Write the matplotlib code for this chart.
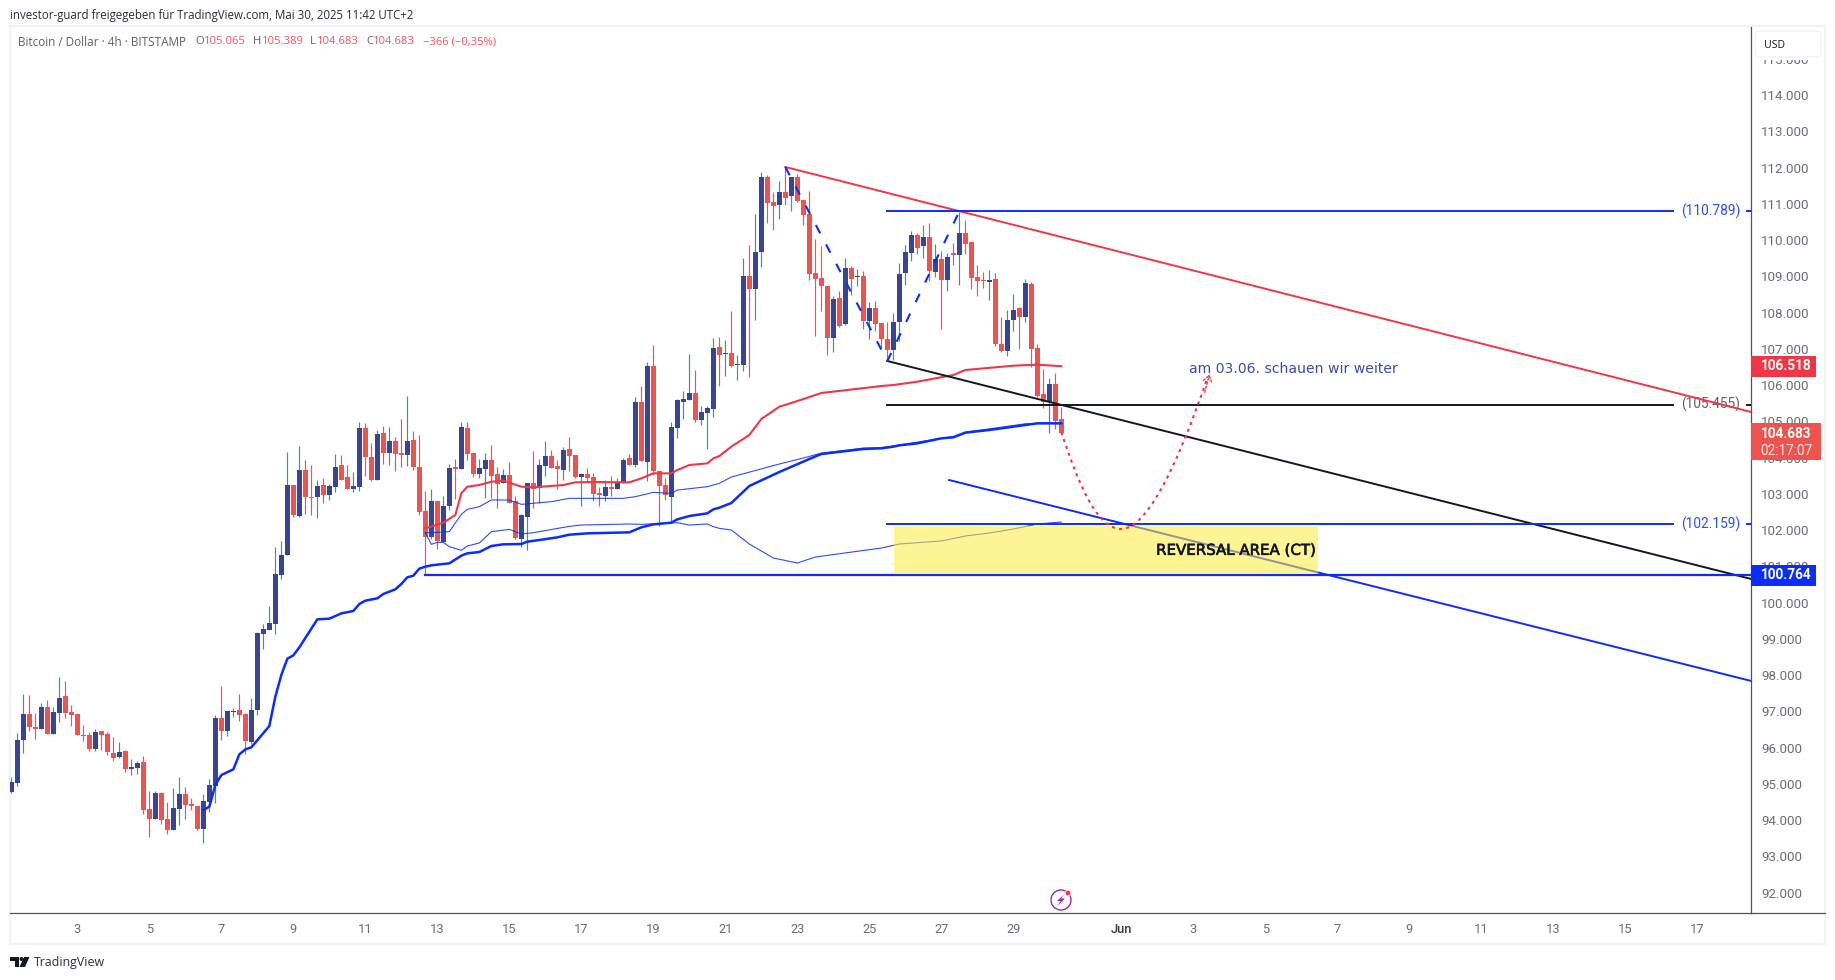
import matplotlib
matplotlib.use("Agg")
import matplotlib.pyplot as plt
import matplotlib.patheffects as pe
from matplotlib.patches import Rectangle, FancyBboxPatch, Circle, Polygon, PathPatch
from matplotlib.path import Path
from matplotlib.transforms import blended_transform_factory

# --- 4h BTC/USD candles -------------------------------------------------
opens = [94772,95021,96207,96924,96565,96510,97117,96372,96952,97421,
 96979,96924,96345,96345,95959,96455,96372,95848,95738,95903,
 95407,95434,95600,94303,94028,94745,94028,93724,94303,94717,
 94441,94386,93752,94497,94938,96814,96455,96979,97034,96924,
 96152,97034,99131,99241,99407,100759,101311,103242,102386,103655,
 102911,102911,103242,102966,103186,103793,103462,103131,103186,104814,
 104014,103379,104676,104124,104455,104124,104069,104483,103738,102524,
 101807,102800,101669,102662,103738,103683,104814,104124,103545,103683,
 103931,103545,103297,103517,102800,101752,102359,103297,103159,103765,
 104041,103765,103655,104234,104069,103462,103545,103462,103021,102938,
 103186,103131,103297,103986,103793,105531,103876,106524,103628,103241,
 102910,104814,105531,105586,105779,105034,105227,105338,107048,106856,
 106883,106552,106552,109007,108649,109669,111738,111049,110966,111324,
 111214,111738,111104,110718,109090,108952,108731,107297,108400,107683,
 109228,108980,109007,107766,108125,107711,107269,106966,107738,109089,
 109641,110138,109834,110083,109117,109476,108896,109641,109586,110193,
 109945,108979,108896,108841,108924,107131,106938,107793,108124,107876,
 108786,107021,105752,105531,106028,105065]
highs = [95177,96400,97476,97448,96952,97227,97310,97117,97945,97834,
 97172,96952,96621,96427,96510,96455,96427,96290,96152,95931,
 95683,95628,95765,94800,94800,94772,94497,94883,95186,94910,
 94607,94386,94717,95131,96896,97696,97007,97090,97476,96952,
 97365,99186,99407,99904,101531,101697,104152,103242,104317,103931,
 103793,103379,103435,103269,104097,104069,103793,103600,104979,104952,
 104400,104759,104869,104842,104566,105062,105697,104731,104621,103076,
 103131,102800,102938,103821,103959,104979,104979,104124,103959,104124,
 104345,103738,103683,103876,102938,102442,103297,104179,103959,104455,
 104207,103931,104290,104565,104069,103572,103710,103572,103186,103379,
 103490,103434,103986,104096,105669,105972,106634,107103,103628,103434,
 104979,105614,105834,106855,106414,105421,105421,107296,107324,107242,
 108042,106828,109504,109862,110718,111876,111793,111324,111628,112014,
 111738,111821,111104,111352,110028,109835,108731,108456,108594,109504,
 109283,109200,109145,108290,108318,107711,107738,107987,109365,109862,
 110248,110193,110413,110469,109889,109696,109641,109917,110772,110551,
 109945,109310,109117,109172,109089,107876,108069,108510,108152,108924,
 108841,107131,106441,106193,106331,105389]
lows = [94754,94947,95848,96455,96234,96510,96372,96372,96703,96814,
 96593,96345,96179,95903,95903,95931,95793,95628,95710,95324,
 95241,95269,94165,93531,94028,93890,93614,93724,93862,94028,
 94276,93724,93365,94221,94469,96207,96317,96841,96731,95821,
 96096,96896,98717,99241,99131,100649,101311,102359,102359,102442,
 102414,102331,102745,102828,103048,103379,103131,103048,103076,103490,
 103352,103379,103821,103793,103628,103738,103766,103655,102414,100759,
 101752,101476,101669,102552,102855,103683,103931,103462,103435,102883,
 102883,102607,103297,102745,101752,101531,101449,102607,102736,103490,
 103710,103131,103379,103628,103434,102662,103324,102800,102662,102800,
 102938,103131,103297,103793,103738,103903,103352,103517,102110,102828,
 102193,104538,105062,105586,104979,104896,104234,105117,105972,106249,
 106506,106138,106387,106221,107794,109256,110469,110276,110580,110966,
 110800,111049,110414,108897,107352,108042,106828,106911,107600,107656,
 108483,108731,107545,107269,107490,107021,106690,106690,107214,108758,
 109420,109614,109503,108869,108979,107545,108593,109310,108758,109614,
 108648,108455,108676,108345,107076,106910,106800,107490,106993,107738,
 106496,105669,105365,104676,104786,104683]
closes = [95048,96207,96924,96565,96510,97117,96372,96979,97365,96952,
 96896,96345,96326,95959,96427,96345,95876,95710,95876,95407,
 95462,95572,94276,94028,94745,94000,93724,94331,94717,94414,
 94386,93752,94524,94965,96814,96455,97007,97007,96896,96179,
 97034,99158,99269,99434,100787,101311,103242,102414,103655,102911,
 102883,103214,102966,103214,103738,103379,103131,103214,104814,104014,
 103379,104648,104124,104455,104097,104069,104455,103738,102497,101807,
 102800,101697,102662,103711,103683,104842,104097,103545,103711,103931,
 103490,103269,103517,102745,101780,102414,103297,103131,103793,104041,
 103710,103683,104207,104041,103462,103545,103434,102993,102965,103186,
 103131,103324,103931,103793,105531,103903,106524,103628,103214,102965,
 104841,105586,105614,105779,105034,105255,105365,107020,106827,106883,
 106525,106580,109007,108649,109669,111738,111021,110938,111324,111159,
 111738,111076,110690,109062,108925,108731,107297,108373,107628,109228,
 108925,109007,107766,108125,107683,107269,106966,107738,109062,109669,
 110138,109779,110083,109145,109476,108896,109531,109595,110193,109890,
 108952,108869,108869,108896,107131,106938,107793,108069,107876,108814,
 106993,105696,105531,106028,105007,104683]

# --- anchored VWAP lines (bar index, price) -----------------------------
vwap_long_bars = [32,33,34,35,37,38,39,40,43,44,45,46,47,48,51,53,55,57,58,59,61,62,64,65,66,67,68,69,70,73,75,76,78,80,82,85,86,88,91,93,96,103,105,107,110,111,113,116,117,118,120,123,128,133,135,142,145,147,148,151,155,157,159,163,169,171,175]
vwap_long = [94276,94368,94965,95241,95398,95811,95949,96004,96593,97402,98000,98450,98542,98763,99536,99554,99701,99766,99959,100051,100115,100235,100364,100511,100695,100741,100934,100989,101026,101081,101292,101357,101393,101559,101605,101614,101678,101724,101798,101871,101908,101936,102074,102156,102202,102294,102386,102460,102570,102616,102745,103214,103600,103959,104097,104234,104253,104299,104336,104391,104529,104556,104685,104759,104897,104942,104942]

vwap_short_bars = [69,70,72,74,75,76,78,80,82,83,85,87,92,94,97,103,105,107,110,111,113,116,117,118,120,123,125,128,131,135,145,147,151,157,159,167,171,175]
vwap_short = [102050,102092,102202,102414,103011,103195,103241,103333,103361,103306,103195,103177,103241,103315,103324,103315,103425,103563,103563,103655,103793,103839,103977,104041,104300,104621,105062,105400,105559,105779,105972,106000,106092,106276,106414,106533,106561,106518]

band_upper_bars = [69,70,73,75,76,78,80,83,85,90,93,102,104,107,110,111,116,118,120,128,132,135,142,145,147,157,159,163,169,175]
band_upper = [101927,101927,101954,102433,102570,102644,102828,102828,102708,102782,102874,102874,102920,103039,103011,103103,103195,103287,103462,103821,103986,104120,104260,104275,104320,104580,104700,104790,104930,104960]

band_lower_bars = [69,70,71,72,73,75,76,78,80,83,85,87,93,95,103,105,111,113,116,117,118,120,123,127,131,134,145,148,155,159,163,167,171,175]
band_lower = [101927,101605,101660,101660,101541,101439,101559,101642,101954,102018,101890,101926,102101,102138,102166,102156,102202,102138,102166,102092,102046,102000,101614,101228,101090,101255,101503,101614,101697,101835,101917,102028,102166,102221]

# --- drawing levels -----------------------------------------------------
LEVEL_UPPER = 110789
LEVEL_MID = 105455
LEVEL_ZONE_TOP = 102159
LEVEL_ZONE_BOTTOM = 100764
LAST_PRICE = 104683
VWAP_LAST = 106518

price_ticks = list(range(92000, 116000, 1000))
day_ticks = [3,5,7,9,11,13,15,17,19,21,23,25,27,29,None,3,5,7,9,11,13,15,17]

W, H = 1835, 980
BLUE = "#0a2cff"
RED = "#f23645"
BODY_UP = "#384494"
WICK_UP = "#26a08f"
BODY_DOWN = "#ef5350"
TEXT_GREY = "#5d606b"
AXIS_GREY = "#50535e"
LABEL_FONT = ["Roboto", "DejaVu Sans"]
UI_FONT = ["Open Sans", "DejaVu Sans"]

fig = plt.figure(figsize=(W / 100, H / 100), dpi=100, facecolor="white")

# chart pane, placed on the pixel grid
AX_L, AX_R, AX_T, AX_B = 10, 1751, 27, 913
ax = fig.add_axes([AX_L / W, 1 - AX_B / H, (AX_R - AX_L) / W, (AX_B - AX_T) / H], zorder=2)
BAR0, BAR_STEP = 11.33, 6.0
ax.set_xlim((AX_L - BAR0) / BAR_STEP, (AX_R - BAR0) / BAR_STEP)
ax.set_ylim(91435, 115876)
ax.patch.set_alpha(0)

for s in ("top", "left"):
    ax.spines[s].set_visible(False)
for s in ("right", "bottom"):
    ax.spines[s].set_color(AXIS_GREY)
    ax.spines[s].set_linewidth(0.9)

# candles
for i, (o, h, l, c) in enumerate(zip(opens, highs, lows, closes)):
    up = c >= o
    ax.vlines(i, l, h, color=WICK_UP if up else BODY_DOWN, lw=0.85, zorder=3)
    ax.bar(i, abs(c - o), bottom=min(o, c), width=0.83,
           color=BODY_UP if up else BODY_DOWN, linewidth=0, zorder=4)

# indicators
ax.plot(band_upper_bars, band_upper, color=BLUE, lw=0.8, alpha=0.85, zorder=5)
ax.plot(band_lower_bars, band_lower, color=BLUE, lw=0.8, alpha=0.85, zorder=5)
ax.plot(vwap_long_bars, vwap_long, color=BLUE, lw=1.8, zorder=5)
ax.plot(vwap_short_bars, vwap_short, color=RED, lw=1.5, zorder=5)

# hand-drawn trendlines
ax.plot([129, 290], [112014, 105255], color=RED, lw=1.4, zorder=6)
ax.plot([146, 290], [106662, 100648], color="#131722", lw=1.4, zorder=6)
ax.plot([156.3, 290], [103379, 97835], color=BLUE, lw=1.4, zorder=6)
ax.plot([129, 146, 158], [112014, 106662, LEVEL_UPPER], color=BLUE, lw=1.5,
        dashes=(4.5, 6), zorder=6)

# horizontal levels with a gap for their inline label
GAP_L, GAP_R = 276.9, 289.2
RIGHT_END = 290
for level, col, label in [(LEVEL_UPPER, BLUE, "(110.789)"),
                          (LEVEL_MID, "#131722", "(105.455)"),
                          (LEVEL_ZONE_TOP, BLUE, "(102.159)")]:
    ax.plot([146, GAP_L], [level, level], color=col, lw=1.4, zorder=6)
    ax.plot([GAP_R, RIGHT_END], [level, level], color=col, lw=1.4, zorder=6)
    ax.text(283.2, level, label, color="#2a4fff" if col == BLUE else TEXT_GREY,
            fontsize=9.9, family=LABEL_FONT, ha="center", va="center", zorder=5)
ax.plot([69, RIGHT_END], [LEVEL_ZONE_BOTTOM, LEVEL_ZONE_BOTTOM], color=BLUE, lw=1.6, zorder=6)

# reversal zone sits above the lines, so they show through it in grey
ax.add_patch(Rectangle((147.1, 100820), 70.7, 1300, facecolor="#ffeb3b",
                       alpha=0.55, linewidth=0, zorder=7))
ax.text(217.4, 101440, "REVERSAL AREA (CT)", fontsize=10.8, family="DejaVu Sans",
        color="#131722", ha="right", va="center", zorder=8,
        path_effects=[pe.withStroke(linewidth=0.45, foreground="#131722")])
ax.text(196.3, 106445, "am 03.06. schauen wir weiter", fontsize=10.1, color="#3f4aa8",
        family="DejaVu Sans", ha="left", va="center", zorder=8)

# projected path
proj = Path([(175, 104700), (178, 103200), (181, 102028), (185, 102028),
             (189, 102028), (194, 103600), (199.4, 106221)],
            [Path.MOVETO, Path.CURVE4, Path.CURVE4, Path.CURVE4,
             Path.CURVE4, Path.CURVE4, Path.CURVE4])
ax.add_patch(PathPatch(proj, facecolor="none", edgecolor=RED, lw=1.5,
                       linestyle=(0, (1.5, 2)), zorder=8))
ax.annotate("", xy=(199.7, 106300), xytext=(198.9, 105800),
            arrowprops=dict(arrowstyle="->,head_length=0.45,head_width=0.3", color=RED,
                            lw=1.0, linestyle=(0, (1.5, 1.5)), shrinkA=0, shrinkB=0),
            zorder=8)

# axes
ax.yaxis.tick_right()
ax.set_yticks(price_ticks)
ax.set_yticklabels([f"{p // 1000}.000" for p in price_ticks], family=LABEL_FONT,
                   fontsize=9.6, color="#6a6d78")
ax.tick_params(axis="y", length=0, pad=7.5)
day_pos = [11 + 6 * k * 2 for k in range(14)] + [11 + 6 * 29] + [11 + 6 * (31 + k * 2) for k in range(8)]
ax.set_xticks(day_pos)
ax.set_xticklabels(["Jun" if d is None else str(d) for d in day_ticks], family=LABEL_FONT,
                   fontsize=9.3, color="#6a6d78")
ax.tick_params(axis="x", length=0, pad=7)
ax.get_xticklabels()[14].set_color("#363a45")
ax.get_xticklabels()[14].set_fontweight("medium")

# price tags on the scale
tag_tf = blended_transform_factory(ax.transAxes, ax.transData)
PANE_W = AX_R - AX_L
PX = (115876 - 91435) / (AX_B - AX_T)


def price_tag(value, width_px, above_px, below_px, color):
    ax.add_patch(Rectangle((1.0, value - below_px * PX), width_px / PANE_W,
                           (above_px + below_px) * PX, transform=tag_tf,
                           facecolor=color, linewidth=0, clip_on=False, zorder=9))


def tag_text(value, txt, alpha=1.0):
    ax.text(1 + 35 / PANE_W, value, txt, transform=tag_tf, color="white", alpha=alpha,
            fontsize=9.8, fontweight="bold" if alpha == 1 else "normal", family=LABEL_FONT,
            ha="center", va="center", clip_on=False, zorder=10)


price_tag(VWAP_LAST, 65, 10.5, 10.5, RED)
tag_text(VWAP_LAST, "106.518")
price_tag(LAST_PRICE, 70, 10, 27, BODY_DOWN)
tag_text(LAST_PRICE - 1.5 * PX, "104.683")
tag_text(LAST_PRICE - 18.5 * PX, "02:17:07", alpha=0.85)
price_tag(LEVEL_ZONE_BOTTOM, 65, 10, 11, BLUE)
tag_text(LEVEL_ZONE_BOTTOM, "100.764")

# page furniture drawn in pixel space
ov = fig.add_axes([0, 0, 1, 1], zorder=1)
ov.set_xlim(0, W)
ov.set_ylim(H, 0)
ov.axis("off")
ov.add_patch(Rectangle((10, 26), 1815, 918, fill=False, edgecolor="#f2f3f5", lw=1.6))
ov.plot([AX_R, 1825], [AX_B, AX_B], color=AXIS_GREY, lw=0.9)

top = fig.add_axes([0, 0, 1, 1], zorder=3)
top.set_xlim(0, W)
top.set_ylim(H, 0)
top.axis("off")
top.patch.set_alpha(0)
top.text(10, 16, "investor-guard freigegeben für TradingView.com, Mai 30, 2025 11:42 UTC+2",
         fontsize=8.3, color="#2a2e39", family=UI_FONT, va="center")
top.text(18, 42, "Bitcoin / Dollar · 4h · BITSTAMP", fontsize=8.5, color=TEXT_GREY,
         family=UI_FONT, va="center")
legend_items = [(195, "O", 204, "105.065"), (253, "H", 262, "105.389"),
                (310, "L", 317, "104.683"), (366, "C", 373, "104.683")]
for x0, name, x1, val in legend_items:
    top.text(x0, 42, name, fontsize=8.1, color=TEXT_GREY, family=UI_FONT, va="center")
    top.text(x1, 42, val, fontsize=8.1, color="#f7525f", family=UI_FONT, va="center")
top.text(423, 42, "−366 (−0,35%)", fontsize=8.1, color="#f7525f", family=UI_FONT, va="center")

# currency button; its lower edge cuts through the topmost scale label
top.add_patch(Rectangle((1753, 55), 70, 5, facecolor="white", edgecolor="none", zorder=3))
top.add_patch(FancyBboxPatch((1755, 31), 66, 26, boxstyle="round,pad=0,rounding_size=5",
                             facecolor="white", edgecolor="#f0f1f4", lw=0.9, zorder=3))
top.text(1764, 46, "USD", fontsize=7.6, color="#131722", family=UI_FONT, va="center", zorder=4)

# lightning marker on the time axis
top.add_patch(Circle((1061, 900), 10, facecolor="white", edgecolor="#9c27b0", lw=1.0))
top.add_patch(Polygon([(1064, 894.5), (1057, 901), (1060.5, 901), (1057.5, 906), (1065, 898.5), (1061, 898.5)],
                      closed=True, facecolor="#9c27b0", edgecolor="none"))
top.add_patch(Circle((1068, 893), 2.8, facecolor=RED, edgecolor="white", lw=0.5))

# footer brand mark
LOGO = "#131722"
top.add_patch(Polygon([(10, 957), (19, 957), (19, 967), (14.5, 967), (14.5, 961), (10, 961)],
                      closed=True, facecolor=LOGO, edgecolor="none"))
top.add_patch(Circle((21.5, 959), 2.0, facecolor=LOGO, edgecolor="none"))
top.add_patch(Polygon([(24, 957), (29.5, 957), (25, 967), (19.5, 967)],
                      closed=True, facecolor=LOGO, edgecolor="none"))
top.text(34, 962, "TradingView", fontsize=8.9, color="#2a2e39", family=UI_FONT, va="center")

fig.savefig("out.png", dpi=100, facecolor="white")
